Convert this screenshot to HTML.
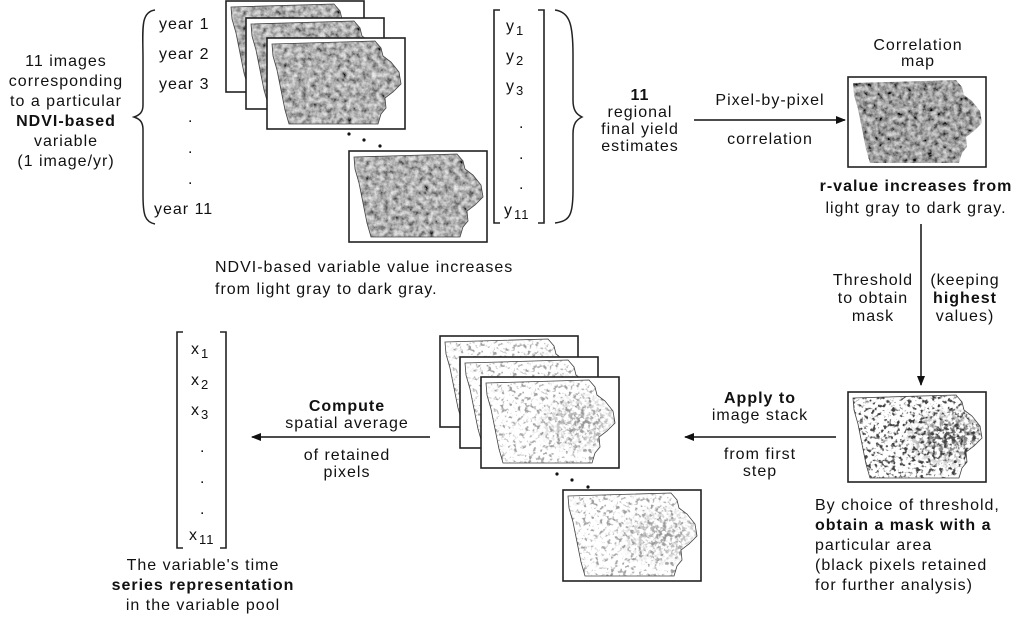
<!DOCTYPE html>
<html><head><meta charset="utf-8">
<style>
html,body{margin:0;padding:0;background:#fff;width:1024px;height:618px;overflow:hidden}
svg{display:block}
text{font-family:"Liberation Sans",sans-serif;font-size:16px;fill:#111;letter-spacing:1px}
.b{font-weight:bold}
</style></head><body>
<svg width="1024" height="618" viewBox="0 0 1024 618" xmlns="http://www.w3.org/2000/svg">
<defs>
<filter id="g" x="0" y="0" width="1" height="1">
 <feTurbulence type="fractalNoise" baseFrequency="0.2" numOctaves="4" seed="3" result="n"/>
 <feColorMatrix in="n" type="matrix" values="1.1 0 0 0 -0.12  1.1 0 0 0 -0.12  1.1 0 0 0 -0.12  0 0 0 0 1" result="c"/>
 <feComposite in="c" in2="SourceGraphic" operator="in"/>
</filter>
<filter id="c2" x="0" y="0" width="1" height="1">
 <feTurbulence type="fractalNoise" baseFrequency="0.2" numOctaves="4" seed="5" result="n"/>
 <feColorMatrix in="n" type="matrix" values="1.1 0 0 0 -0.2  1.1 0 0 0 -0.2  1.1 0 0 0 -0.2  0 0 0 0 1" result="c"/>
 <feComposite in="c" in2="SourceGraphic" operator="in"/>
</filter>
<filter id="m" x="0" y="0" width="1" height="1">
 <feTurbulence type="fractalNoise" baseFrequency="0.25" numOctaves="4" seed="7" result="n"/>
 <feColorMatrix in="n" type="matrix" values="0 0 0 0 0.35  0 0 0 0 0.35  0 0 0 0 0.35  6 0 0 0 -3.3" result="c"/>
 <feComposite in="c" in2="SourceGraphic" operator="in"/>
</filter>
<filter id="me" x="0" y="0" width="1" height="1">
 <feTurbulence type="fractalNoise" baseFrequency="0.25" numOctaves="4" seed="9" result="n"/>
 <feColorMatrix in="n" type="matrix" values="0 0 0 0 0.3  0 0 0 0 0.3  0 0 0 0 0.3  6 0 0 0 -2.8" result="c"/>
 <feComposite in="c" in2="SourceGraphic" operator="in"/>
</filter>
<filter id="k" x="0" y="0" width="1" height="1">
 <feTurbulence type="fractalNoise" baseFrequency="0.25" numOctaves="4" seed="11" result="n"/>
 <feColorMatrix in="n" type="matrix" values="0 0 0 0 0.05  0 0 0 0 0.05  0 0 0 0 0.05  6 0 0 0 -3.2" result="c"/>
 <feComposite in="c" in2="SourceGraphic" operator="in"/>
</filter>
<filter id="ke" x="0" y="0" width="1" height="1">
 <feTurbulence type="fractalNoise" baseFrequency="0.25" numOctaves="4" seed="13" result="n"/>
 <feColorMatrix in="n" type="matrix" values="0 0 0 0 0.05  0 0 0 0 0.05  0 0 0 0 0.05  6 0 0 0 -2.7" result="c"/>
 <feComposite in="c" in2="SourceGraphic" operator="in"/>
</filter>
<radialGradient id="eg" cx="0.72" cy="0.5" r="0.35"><stop offset="0" stop-color="#fff" stop-opacity="1"/><stop offset="1" stop-color="#fff" stop-opacity="0"/></radialGradient>
<mask id="eastmask"><rect x="0" y="0" width="140" height="91" fill="url(#eg)"/></mask>
<path id="ia" d="M5,6 L108,3 L114,10 L116,18 L124,24 L132,34 L134,46 L126,54 L118,60 L119,70 L114,76 L111,86 L22,86 L18,72 L14,52 L10,32 L6,18 Z"/>
<g id="gframe"><rect x="0" y="0" width="138" height="91" fill="#fff" stroke="#222" stroke-width="1.6"/>
 <use href="#ia" fill="#fff" filter="url(#g)"/><use href="#ia" fill="none" stroke="#444" stroke-width="0.8"/></g>
<g id="mframe"><rect x="0" y="0" width="138" height="91" fill="#fff" stroke="#222" stroke-width="1.6"/>
 <use href="#ia" fill="#fff"/><use href="#ia" fill="#fff" filter="url(#m)"/><g mask="url(#eastmask)"><use href="#ia" fill="#fff" filter="url(#me)"/></g><use href="#ia" fill="none" stroke="#444" stroke-width="0.8"/></g>
<marker id="ar" markerWidth="10" markerHeight="8" refX="9" refY="4" orient="auto" markerUnits="userSpaceOnUse"><path d="M0,0 L10,4 L0,8 Z" fill="#111"/></marker>
</defs>

<g text-anchor="middle">
<text x="66" y="66">11 images</text>
<text x="66" y="86">corresponding</text>
<text x="66" y="106">to a particular</text>
<text x="66" y="126" class="b">NDVI-based</text>
<text x="66" y="146">variable</text>
<text x="66" y="166">(1 image/yr)</text>
</g>
<path d="M155,10 C140,12 143,30 143,60 L143,105 C143,112 140,115 134,117 C140,119 143,122 143,130 L143,195 C143,215 145,222 155,224" fill="none" stroke="#222" stroke-width="1.5"/>
<text x="159" y="29">year 1</text>
<text x="159" y="59">year 2</text>
<text x="159" y="89">year 3</text>
<text x="188" y="122">.</text><text x="188" y="153">.</text><text x="188" y="184">.</text>
<text x="154" y="214">year 11</text>

<use href="#gframe" x="226" y="1"/>
<use href="#gframe" x="246" y="18"/>
<use href="#gframe" x="267" y="38"/>
<circle cx="349" cy="134" r="1.6" fill="#111"/><circle cx="364" cy="140" r="1.6" fill="#111"/><circle cx="380" cy="146" r="1.6" fill="#111"/>
<use href="#gframe" x="349" y="151"/>

<text x="215" y="272">NDVI-based variable value increases</text>
<text x="215" y="294">from light gray to dark gray.</text>

<path d="M500,10 L494,10 L494,223 L500,223 M538,10 L544,10 L544,223 L538,223" fill="none" stroke="#222" stroke-width="1.6"/>
<text x="506" y="31">y<tspan font-size="13" dx="1" dy="4">1</tspan></text>
<text x="506" y="61">y<tspan font-size="13" dx="1" dy="4">2</tspan></text>
<text x="506" y="91">y<tspan font-size="13" dx="1" dy="4">3</tspan></text>
<text x="519" y="128">.</text><text x="519" y="159">.</text><text x="519" y="189">.</text>
<text x="504" y="215">y<tspan font-size="13" dx="1" dy="4">11</tspan></text>
<path d="M555,10 C570,12 573,25 573,55 L573,100 C573,110 576,114 582,117 C576,120 573,124 573,134 L573,190 C573,215 570,221 555,223" fill="none" stroke="#222" stroke-width="1.5"/>
<g text-anchor="middle">
<text x="640" y="100" class="b">11</text>
<text x="640" y="117">regional</text>
<text x="640" y="134">final yield</text>
<text x="640" y="151">estimates</text>
</g>

<line x1="694" y1="120" x2="845" y2="120" stroke="#111" stroke-width="1.5" marker-end="url(#ar)"/>
<text x="770" y="105" text-anchor="middle">Pixel-by-pixel</text>
<text x="770" y="144" text-anchor="middle">correlation</text>

<text x="918" y="50" text-anchor="middle">Correlation</text>
<text x="918" y="66" text-anchor="middle">map</text>
<g transform="translate(848,77)"><rect x="0" y="0" width="138" height="90" fill="#fff" stroke="#222" stroke-width="1.6"/>
 <use href="#ia" fill="#fff" filter="url(#c2)"/></g>
<text x="916" y="191" text-anchor="middle" class="b">r-value increases from</text>
<text x="916" y="213" text-anchor="middle">light gray to dark gray.</text>

<line x1="921" y1="224" x2="921" y2="385" stroke="#111" stroke-width="1.5" marker-end="url(#ar)"/>
<g text-anchor="middle">
<text x="873" y="285">Threshold</text><text x="873" y="303">to obtain</text><text x="873" y="321">mask</text>
<text x="965" y="285">(keeping</text><text x="965" y="303" class="b">highest</text><text x="965" y="321">values)</text>
</g>

<g transform="translate(848,392)"><rect x="0" y="0" width="138" height="90" fill="#fff" stroke="#222" stroke-width="1.6"/>
 <use href="#ia" fill="#fff"/><use href="#ia" fill="#fff" filter="url(#k)"/><g mask="url(#eastmask)"><use href="#ia" fill="#fff" filter="url(#ke)"/></g><use href="#ia" fill="none" stroke="#444" stroke-width="0.8"/></g>
<text x="815" y="510">By choice of threshold,</text>
<text x="815" y="530" class="b">obtain a mask with a</text>
<text x="815" y="550">particular area</text>
<text x="815" y="570">(black pixels retained</text>
<text x="815" y="590">for further analysis)</text>

<line x1="836" y1="437" x2="685" y2="437" stroke="#111" stroke-width="1.5" marker-end="url(#ar)"/>
<g text-anchor="middle">
<text x="760" y="403" class="b">Apply to</text><text x="760" y="420">image stack</text>
<text x="760" y="459">from first</text><text x="760" y="476">step</text>
</g>

<use href="#mframe" x="440" y="336"/>
<use href="#mframe" x="460" y="357"/>
<use href="#mframe" x="481" y="377"/>
<circle cx="557" cy="474" r="1.6" fill="#111"/><circle cx="572" cy="480" r="1.6" fill="#111"/><circle cx="588" cy="487" r="1.6" fill="#111"/>
<use href="#mframe" x="563" y="490"/>

<line x1="430" y1="437" x2="252" y2="437" stroke="#111" stroke-width="1.5" marker-end="url(#ar)"/>
<g text-anchor="middle">
<text x="347" y="411" class="b">Compute</text><text x="347" y="428">spatial average</text>
<text x="347" y="460">of retained</text><text x="347" y="477">pixels</text>
</g>

<path d="M183,332 L177,332 L177,548 L183,548 M220,332 L226,332 L226,548 L220,548" fill="none" stroke="#222" stroke-width="1.6"/>
<text x="191" y="354">x<tspan font-size="13" dx="1" dy="4">1</tspan></text>
<text x="191" y="385">x<tspan font-size="13" dx="1" dy="4">2</tspan></text>
<text x="191" y="415">x<tspan font-size="13" dx="1" dy="4">3</tspan></text>
<text x="200" y="452">.</text><text x="200" y="483">.</text><text x="200" y="514">.</text>
<text x="189" y="540">x<tspan font-size="13" dx="1" dy="4">11</tspan></text>
<g text-anchor="middle">
<text x="203" y="570">The variable's time</text>
<text x="203" y="590" class="b">series representation</text>
<text x="203" y="610">in the variable pool</text>
</g>
</svg>
</body></html>
